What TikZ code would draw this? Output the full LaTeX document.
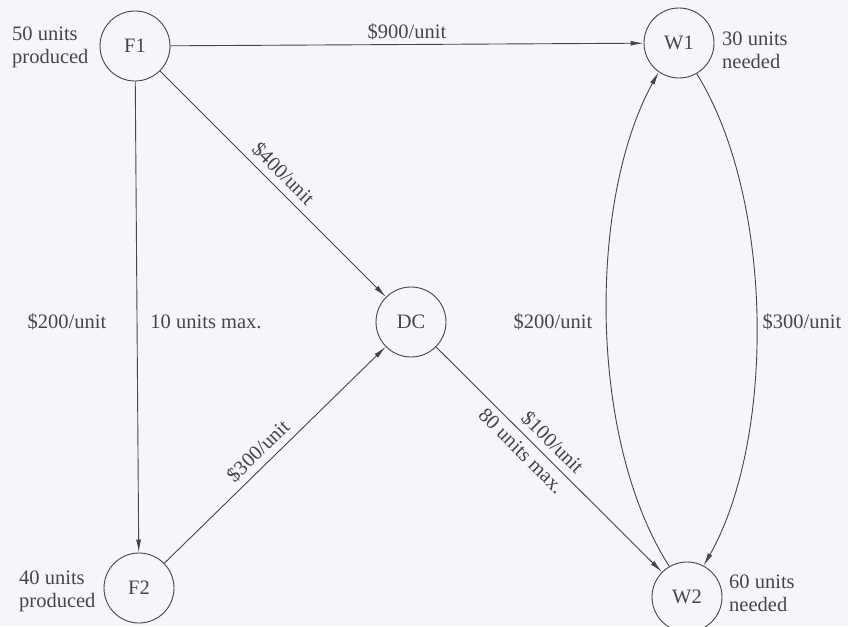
\documentclass[tikz,border=0pt]{standalone}
\usepackage{fontspec}
\setmainfont{Liberation Serif}
\usetikzlibrary{arrows.meta}
\definecolor{ink}{RGB}{70,70,72}
\definecolor{paper}{RGB}{244,246,249}
\begin{document}
\begin{tikzpicture}[x=1pt,y=-1pt,
  every node/.style={text=ink,font=\fontsize{20.5}{23}\selectfont},
  place/.style={draw=ink,line width=0.9pt,circle,minimum size=70pt,inner sep=0pt},
  side/.style={align=left,anchor=west,inner sep=0pt},
  flow/.style={draw=ink,line width=0.9pt,-{Latex[length=13pt,width=5pt]}},
  cost/.style={inner sep=4pt},
  slant/.style={inner sep=6pt,sloped}]
\fill[paper] (0,0) rectangle (848,626);
\useasboundingbox (0,0) rectangle (848,626);
\node[place] (F1) at (135,46) {F1};
\node[place] (W1) at (679,43) {W1};
\node[place] (DC) at (411,322) {DC};
\node[place] (F2) at (139,588) {F2};
\node[place] (W2) at (687,597) {W2};

\node[side] (l50) at (12,47) {50 units\\produced};
\node[side] (l30) at (722,50) {30 units\\needed};
\node[side] (l40) at (19,591) {40 units\\produced};
\node[side] (l60) at (729,593) {60 units\\needed};

\draw[flow] (F1) -- node[cost,above,pos=0.5] {\$900/unit} (W1);
\draw[flow] (F1) -- node[slant,above,pos=0.5] {\$400/unit} (DC);
\draw[flow] (F1) -- (F2);
\node (c200a) at (67,322) {\$200/unit};
\node (c10) at (206,322) {10 units max.};
\draw[flow] (F2) -- node[slant,above,pos=0.47] {\$300/unit} (DC);
\draw[flow] (DC) -- node[slant,above,pos=0.47] {\$100/unit}
                    node[slant,below,pos=0.42] {80 units max.} (W2);
\draw[flow] (W2.120) .. controls (588,440) and (588,200) .. (W1.235);
\draw[flow] (W1.300) .. controls (775,200) and (775,440) .. (W2.62);
\node (c200b) at (553,322) {\$200/unit};
\node (c300) at (802,322) {\$300/unit};
\end{tikzpicture}
\end{document}
